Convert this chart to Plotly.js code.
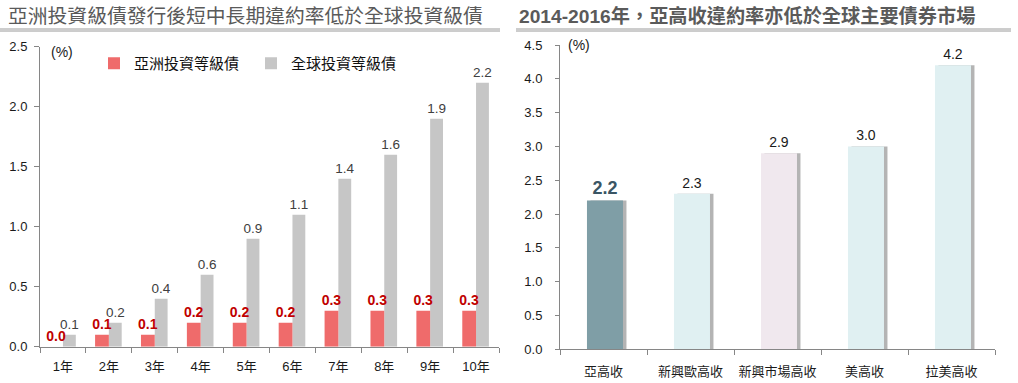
<!DOCTYPE html>
<html>
<head>
<meta charset="utf-8">
<script src="https://cdn.plot.ly/plotly-3.0.1.min.js"></script>
<style>
html,body{margin:0;padding:0;background:#fff;}
#chart{width:1018px;height:383px;}
</style>
</head>
<body>
<div id="chart"></div>
<script>
// ---- Data ----
const leftCategories = ["1年","2年","3年","4年","5年","6年","7年","8年","9年","10年"];
const asiaIG = [0.0,0.1,0.1,0.2,0.2,0.2,0.3,0.3,0.3,0.3];
const globalIG = [0.1,0.2,0.4,0.6,0.9,1.1,1.4,1.6,1.9,2.2];
const leftSeriesNames = ["亞洲投資等級債","全球投資等級債"];

const rightCategories = ["亞高收","新興歐高收","新興市場高收","美高收","拉美高收"];
const hyDefault = [2.2,2.3,2.9,3.0,4.2];

const leftTitle = "亞洲投資級債發行後短中長期違約率低於全球投資級債";
const rightTitle = "2014-2016年，亞高收違約率亦低於全球主要債券市場";

// ---- Styles ----
const W = 1018, H = 383;
const FONT = "Liberation Sans, Arial, Noto Sans CJK TC, sans-serif";
const CJK = "Liberation Sans, Noto Sans CJK TC, sans-serif";
const px = v => v / W;
const py = v => 1 - v / H;

const traces = [
  {
    type: "bar", name: leftSeriesNames[1], x: leftCategories, y: globalIG,
    xaxis: "x", yaxis: "y",
    offset: 0.0, width: 0.28,
    marker: {color: "#c6c6c6"},
    text: globalIG.map(v => v.toFixed(1)), textposition: "outside", constraintext: "none",
    textfont: {family: FONT, size: 13.5, color: "#404040"},
    cliponaxis: false, hoverinfo: "skip"
  },
  {
    type: "bar", name: leftSeriesNames[0], x: leftCategories, y: asiaIG,
    xaxis: "x", yaxis: "y",
    offset: -0.30, width: 0.30,
    marker: {color: "#ef6b6b"},
    text: asiaIG.map(v => v.toFixed(1)), textposition: "outside", constraintext: "none",
    textfont: {family: FONT, size: 14, color: "#c00000", weight: "bold"},
    cliponaxis: false, hoverinfo: "skip"
  },
  {
    type: "bar", name: "shadow", x: rightCategories, y: hyDefault,
    xaxis: "x2", yaxis: "y2", showlegend: false,
    offset: -0.15, width: 0.414,
    marker: {color: "#b4b4b4"},
    hoverinfo: "skip"
  },
  {
    type: "bar", name: "高收", x: rightCategories, y: hyDefault,
    xaxis: "x2", yaxis: "y2", showlegend: false,
    offset: -0.19, width: 0.414,
    marker: {color: ["#7f9ea6","#e0f0f2","#f0e8ee","#e0f0f2","#e0f0f2"]},
    text: hyDefault.map(v => v.toFixed(1)), textposition: "outside", constraintext: "none",
    textfont: {family: FONT, size: hyDefault.map((v,i)=> i===0 ? 18 : 14),
               color: hyDefault.map((v,i)=> i===0 ? "#3a5564" : "#1a1a1a"),
               weight: hyDefault.map((v,i)=> i===0 ? "bold" : "normal")},
    cliponaxis: false, hoverinfo: "skip"
  }
];

const axisCommon = {
  showgrid: false, zeroline: false, showline: true,
  linecolor: "#868686", linewidth: 1,
  ticks: "outside", tickcolor: "#868686",
  tickfont: {family: CJK, size: 13, color: "#1a1a1a"},
  tickangle: 0,
  fixedrange: true
};

const layout = {
  width: W, height: H,
  margin: {l: 0, r: 0, t: 0, b: 0},
  paper_bgcolor: "#fff", plot_bgcolor: "rgba(0,0,0,0)",
  barmode: "overlay",
  showlegend: true,
  legend: {
    orientation: "h", x: px(94), y: py(47), xanchor: "left", yanchor: "top",
    font: {family: CJK, size: 15, color: "#111"},
    itemwidth: 30, bgcolor: "rgba(0,0,0,0)", traceorder: "reversed",
    entrywidth: 112
  },
  xaxis: Object.assign({}, axisCommon, {
    domain: [px(40), px(499)], anchor: "y",
    type: "category", tickson: "boundaries", ticklen: 5,
    ticklabelstandoff: 8
  }),
  yaxis: Object.assign({}, axisCommon, {
    domain: [py(346.7), py(46.7)], anchor: "x",
    range: [0, 2.5], dtick: 0.5, tickformat: ".1f", ticklen: 5,
    ticklabelstandoff: 4
  }),
  xaxis2: Object.assign({}, axisCommon, {
    domain: [px(560), px(995)], anchor: "y2",
    type: "category", tickson: "boundaries", ticklen: 5,
    ticklabelstandoff: 10
  }),
  yaxis2: Object.assign({}, axisCommon, {
    domain: [py(349.3), py(45)], anchor: "x2",
    range: [0, 4.5], dtick: 0.5, tickformat: ".1f", ticklen: 4,
    ticklabelstandoff: 10
  }),
  annotations: [
    {xref: "paper", yref: "paper", x: px(6), y: py(16), xanchor: "left", yanchor: "middle",
     text: leftTitle, showarrow: false,
     font: {family: CJK, size: 19.8, color: "#5a5a5a"}},
    {xref: "paper", yref: "paper", x: px(517), y: py(16), xanchor: "left", yanchor: "middle",
     text: "<b>" + rightTitle + "</b>", showarrow: false,
     font: {family: CJK, size: 19.2, color: "#5a5a5a"}},
    {xref: "paper", yref: "paper", x: px(49), y: py(52), xanchor: "left", yanchor: "middle",
     text: "(%)", showarrow: false, font: {family: FONT, size: 14, color: "#1a1a1a"}},
    {xref: "paper", yref: "paper", x: px(566), y: py(45), xanchor: "left", yanchor: "middle",
     text: "(%)", showarrow: false, font: {family: FONT, size: 14, color: "#1a1a1a"}}
  ],
  shapes: [
    {type: "line", xref: "paper", yref: "paper", x0: 0, x1: px(500), y0: py(29), y1: py(29), line: {color: "#9a9a9a", width: 1}},
    {type: "line", xref: "paper", yref: "paper", x0: 0, x1: px(500), y0: py(31), y1: py(31), line: {color: "#9a9a9a", width: 1}},
    {type: "line", xref: "paper", yref: "paper", x0: px(516), x1: px(1011), y0: py(29), y1: py(29), line: {color: "#9a9a9a", width: 1}},
    {type: "line", xref: "paper", yref: "paper", x0: px(516), x1: px(1011), y0: py(31), y1: py(31), line: {color: "#9a9a9a", width: 1}}
  ]
};

Plotly.newPlot("chart", traces, layout, {displayModeBar: false, staticPlot: true});
</script>
</body>
</html>
